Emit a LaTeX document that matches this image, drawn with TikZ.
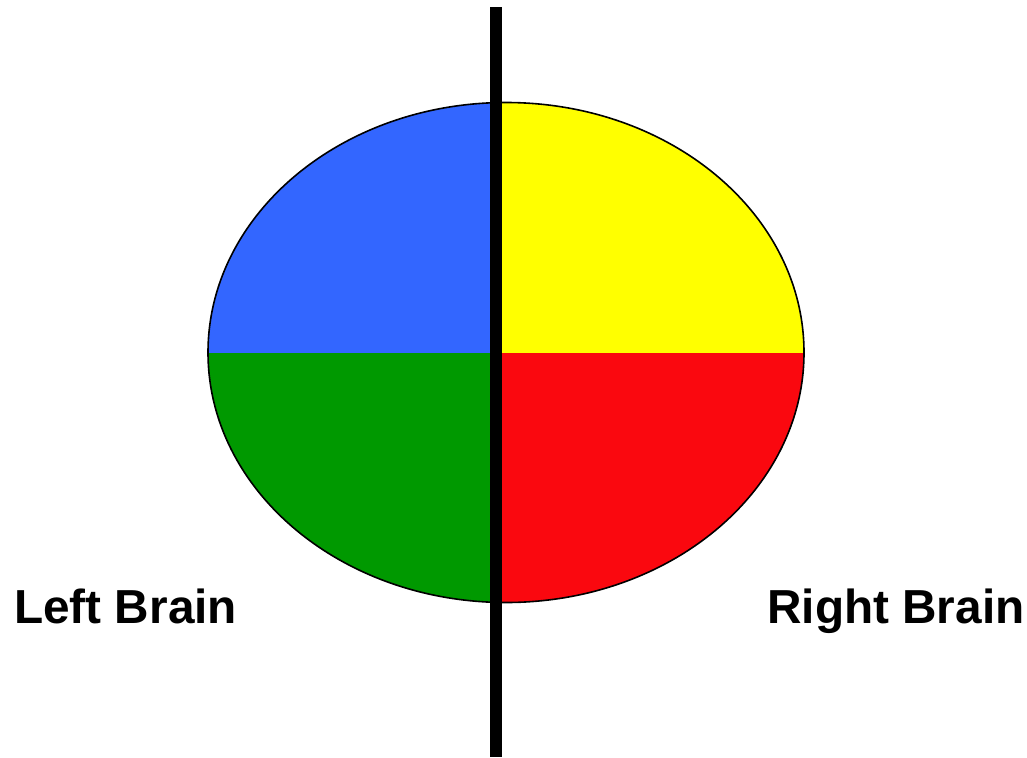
\documentclass[tikz,border=0pt]{standalone}
\usepackage{fontspec}
\setmainfont{Liberation Sans}
\usepackage{tikz}
\usetikzlibrary{positioning}
\definecolor{lobeblue}{RGB}{51,102,255}
\definecolor{lobeyellow}{RGB}{255,255,0}
\definecolor{lobegreen}{RGB}{0,153,0}
\definecolor{lobered}{RGB}{250,8,15}

\begin{document}
\begin{tikzpicture}[x=0.75pt, y=-0.75pt,
  side/.style={font=\fontsize{35.8}{40}\selectfont\bfseries, inner sep=0pt, anchor=base west}]

\useasboundingbox (0,0) rectangle (1027,757);

% quadrants
\begin{scope}
  \clip (506,352.5) ellipse [x radius=298, y radius=250];
  \fill[lobeblue]   (200,95)  rectangle (496,352.5);
  \fill[lobeyellow] (496,95)  rectangle (810,352.5);
  \fill[lobegreen]  (200,352.5) rectangle (496,610);
  \fill[lobered]    (496,352.5) rectangle (810,610);
\end{scope}
\draw[line width=1.2pt] (506,352.5) ellipse [x radius=298, y radius=250];

% divider
\coordinate (top) at (496,7);
\coordinate (bot) at (496,757);
\draw[line width=9pt] (top) -- (bot);

\node[side] (leftlbl)  at (14,623)  {Left Brain};
\node[side] (rightlbl) at (767,623) {Right Brain};

\end{tikzpicture}
\end{document}
